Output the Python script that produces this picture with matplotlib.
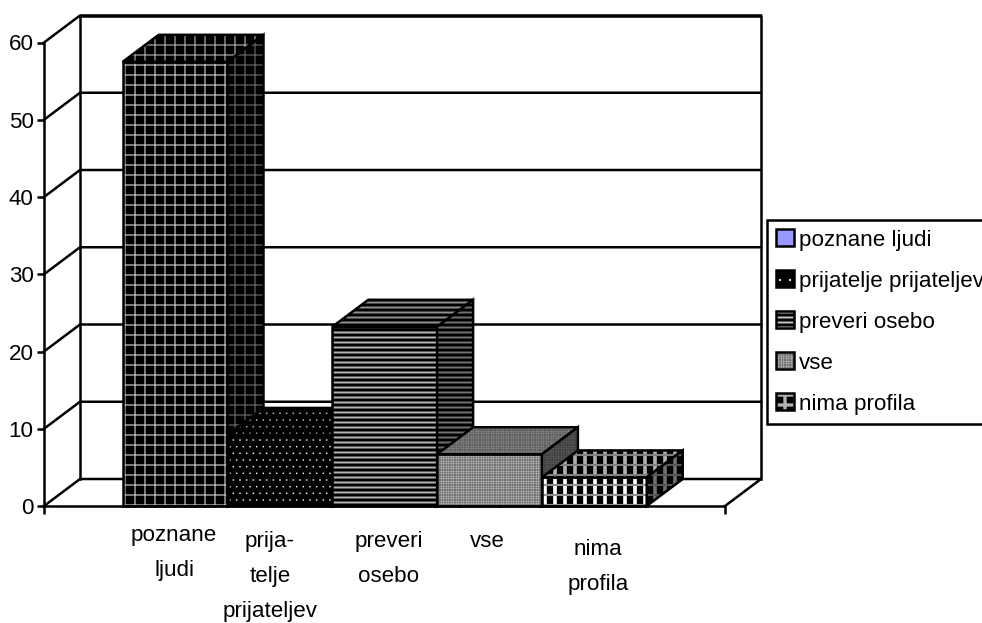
import matplotlib
matplotlib.use("Agg")
import matplotlib.pyplot as plt
from matplotlib.patches import Polygon, Patch, Rectangle
from matplotlib.legend_handler import HandlerPatch

categories = ["poznane ljudi", "prijatelje prijateljev", "preveri osebo", "vse", "nima profila"]
axis_labels = ["poznane\nljudi", "prija-\ntelje\nprijateljev", "preveri\nosebo", "vse", "nima\nprofila"]
values = [57.5, 9.2, 23.2, 6.7, 3.7]
yticks = [0, 10, 20, 30, 40, 50, 60]

plt.rcParams["font.family"] = ["Liberation Sans", "DejaVu Sans"]
FS = 13.4
W, H, DPI = 982, 623, 120

fig = plt.figure(figsize=(W / DPI, H / DPI), dpi=DPI, facecolor="white")
L, R, T, B = 44, 725, 42.5, 506
ax = fig.add_axes([L / W, 1 - B / H, (R - L) / W, (B - T) / H])
UX = 104.8
UY = (B - T) / 60
ax.set_xlim(0, (R - L) / UX)
ax.set_ylim(0, 60)
ax.patch.set_visible(False)
DX = 36 / UX
DY = 27 / UY
X0 = (122.7 - L) / UX
XMAX = (R - L) / UX
LW = 1.5

for s in ("top", "right"):
    ax.spines[s].set_visible(False)
for s in ("left", "bottom"):
    ax.spines[s].set_linewidth(LW)
ax.set_yticks(yticks)
ax.set_xticks([0, XMAX])
ax.set_xticklabels([])
ax.tick_params(axis="y", length=4.2, width=LW, labelsize=FS, pad=2)
ax.tick_params(axis="x", length=4.8, width=LW)

# walls and gridlines
ax.plot([DX, DX, XMAX + DX, XMAX + DX], [DY, 60 + DY, 60 + DY, DY], color="k", lw=LW, clip_on=False, zorder=1)
ax.plot([0, DX, XMAX + DX, XMAX], [0, DY, DY, 0], color="k", lw=LW, clip_on=False, zorder=1)
for v in yticks[1:]:
    ax.plot([0, DX, XMAX + DX], [v, v + DY, v + DY], color="k", lw=LW, clip_on=False, zorder=1)

# per-face hatch layers: (hatch, line width, face colour, hatch colour) for front/top/side
styles = [
    [[("++", 0.8, "black", c)] for c in ("#b4b4b4", "#9a9a9a", "#5e5e5e")],
    [[("...", 0.15, "black", c)] for c in ("#ffffff", "#c8c8c8", "#888888")],
    [[("----", 1.2, "black", c)] for c in ("#b4b4b4", "#909090", "#707070")],
    [[("++++++++", 0.25, f, c)] for f, c in (("#727272", "#c0c0c0"), ("#606060", "#888888"), ("#404040", "#5e5e5e"))],
    [[("||", 2.2, "black", c), ("--", 1.3, "none", g)]
     for c, g in (("#ffffff", "#909090"), ("#b0b0b0", "#808080"), ("#707070", "#555555"))],
]


def face(pts, layers):
    for hatch, hw, fc, hc in layers:
        plt.rcParams["hatch.linewidth"] = hw
        ax.add_patch(Polygon(pts, closed=True, facecolor=fc, edgecolor=hc, hatch=hatch,
                             lw=0, clip_on=False, zorder=2))
    ax.add_patch(Polygon(pts, closed=True, facecolor="none", edgecolor="k", lw=LW, clip_on=False,
                         joinstyle="miter", zorder=2))


for i, (v, st) in enumerate(zip(values, styles)):
    a, b = X0 + i, X0 + i + 1
    face([(a, 0), (b, 0), (b, v), (a, v)], st[0])
    face([(a, v), (b, v), (b + DX, v + DY), (a + DX, v + DY)], st[1])
    face([(b, 0), (b + DX, DY), (b + DX, v + DY), (b, v)], st[2])

# category captions below the floor
label_px = [(174, 525), (270, 531), (389, 531), (487, 531), (598, 539)]
for txt, (px, py) in zip(axis_labels, label_px):
    ax.text((px - L) / UX, (B - py) / UY, txt, ha="center", va="top", fontsize=FS, linespacing=1.89, clip_on=False)


class Swatch(HandlerPatch):
    def create_artists(self, legend, orig, xd, yd, w, h, fs, trans):
        plt.rcParams["hatch.linewidth"] = orig.hw
        r = Rectangle((-xd, -yd), w, h, facecolor=orig.get_facecolor(), edgecolor=orig.get_edgecolor(),
                      hatch=orig.get_hatch(), lw=0, transform=trans)
        o = Rectangle((-xd, -yd), w, h, facecolor="none", edgecolor="k", lw=LW, transform=trans)
        return [r, o]


handles = [
    Patch(facecolor="#9999ff", edgecolor="#9999ff"),
    Patch(facecolor="black", edgecolor="white", hatch=".."),
    Patch(facecolor="black", edgecolor="#c0c0c0", hatch="----"),
    Patch(facecolor="#727272", edgecolor="#c0c0c0", hatch="++++++++"),
    Patch(facecolor="black", edgecolor="#b0b0b0", hatch="++"),
]
for h_, w_ in zip(handles, [0.5, 0.15, 1.2, 0.25, 2.0]):
    h_.hw = w_
leg = ax.legend(handles, categories, loc="upper left", bbox_to_anchor=(767 / W, 1 - 220 / H),
                bbox_transform=fig.transFigure, borderaxespad=0, fontsize=FS, frameon=True, fancybox=False,
                framealpha=1, edgecolor="k", handlelength=0.8, handleheight=0.8, handletextpad=0.2,
                labelspacing=0.88, borderpad=0.42, handler_map={Patch: Swatch()})
leg.get_frame().set_linewidth(LW)

fig.savefig("out.png", dpi=DPI, facecolor="white")
